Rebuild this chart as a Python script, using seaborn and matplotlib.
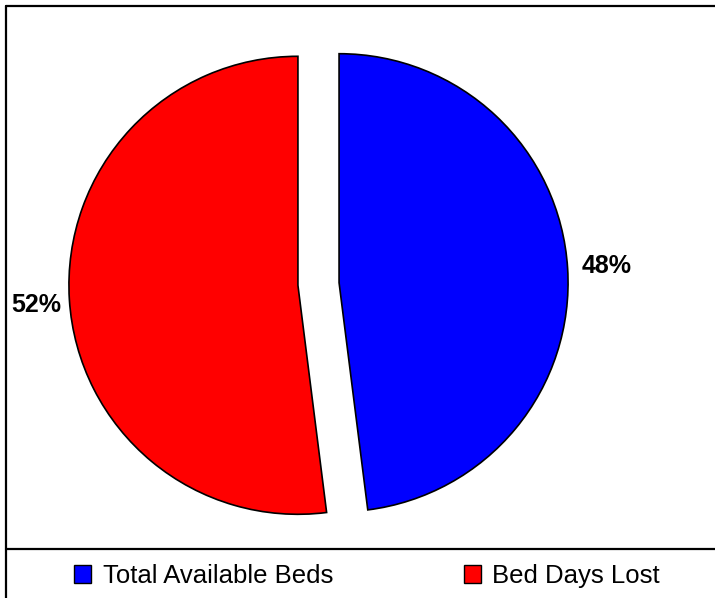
import matplotlib
matplotlib.use("Agg")
import matplotlib.pyplot as plt
from matplotlib.lines import Line2D
from matplotlib.patches import Patch
import seaborn as sns

categories = ["Total Available Beds", "Bed Days Lost"]
shares = [48, 52]
slice_colors = ["#0000FF", "#FF0000"]

sns.set_theme(style="white")
plt.rcParams["font.family"] = ["Liberation Sans", "DejaVu Sans"]

fig = plt.figure(figsize=(7.15, 5.98), dpi=100)
fig.patch.set_facecolor("white")

# axes covers the whole figure; limits chosen so 1 unit = ~229 px
ax = fig.add_axes([0, 0, 1, 1])
wedges, texts, autotexts = ax.pie(
    shares,
    colors=slice_colors,
    startangle=90,
    counterclock=False,
    explode=[0.09, 0.09],
    autopct="%1.0f%%",
    pctdistance=1.17,
    wedgeprops=dict(edgecolor="black", linewidth=1.2),
    textprops=dict(fontsize=18, fontweight="bold", color="black"),
)
ax.set_xlim(-318.5 / 229, (715 - 318.5) / 229)
ax.set_ylim(-(598 - 284) / 229, 284 / 229)
ax.axis("off")

# nudge the left label a little inward, off the frame line
lx, ly = autotexts[1].get_position()
autotexts[1].set_position((lx + 6 / 229, ly - 3 / 229))

# frame lines: top, left and legend separator
W, H = 715, 598
def px_line(x0, y0, x1, y1):
    fig.add_artist(Line2D([x0 / W, x1 / W], [1 - y0 / H, 1 - y1 / H],
                          color="black", linewidth=1.6, transform=fig.transFigure))

px_line(6, 6, W, 6)
px_line(6, 6, 6, H)
px_line(6, 549, W, 549)

handles = [Patch(facecolor=c, edgecolor="black", linewidth=1) for c in slice_colors]
fig.legend(
    handles, categories,
    loc="center left",
    bbox_to_anchor=(74 / W, 1 - 576 / H),
    ncol=2,
    frameon=False,
    fontsize=18.5,
    labelcolor="black",
    handlelength=0.66,
    handleheight=0.66,
    handletextpad=0.45,
    columnspacing=5.1,
    borderpad=0,
    borderaxespad=0,
)

fig.savefig("out.png", dpi=100, facecolor="white")
